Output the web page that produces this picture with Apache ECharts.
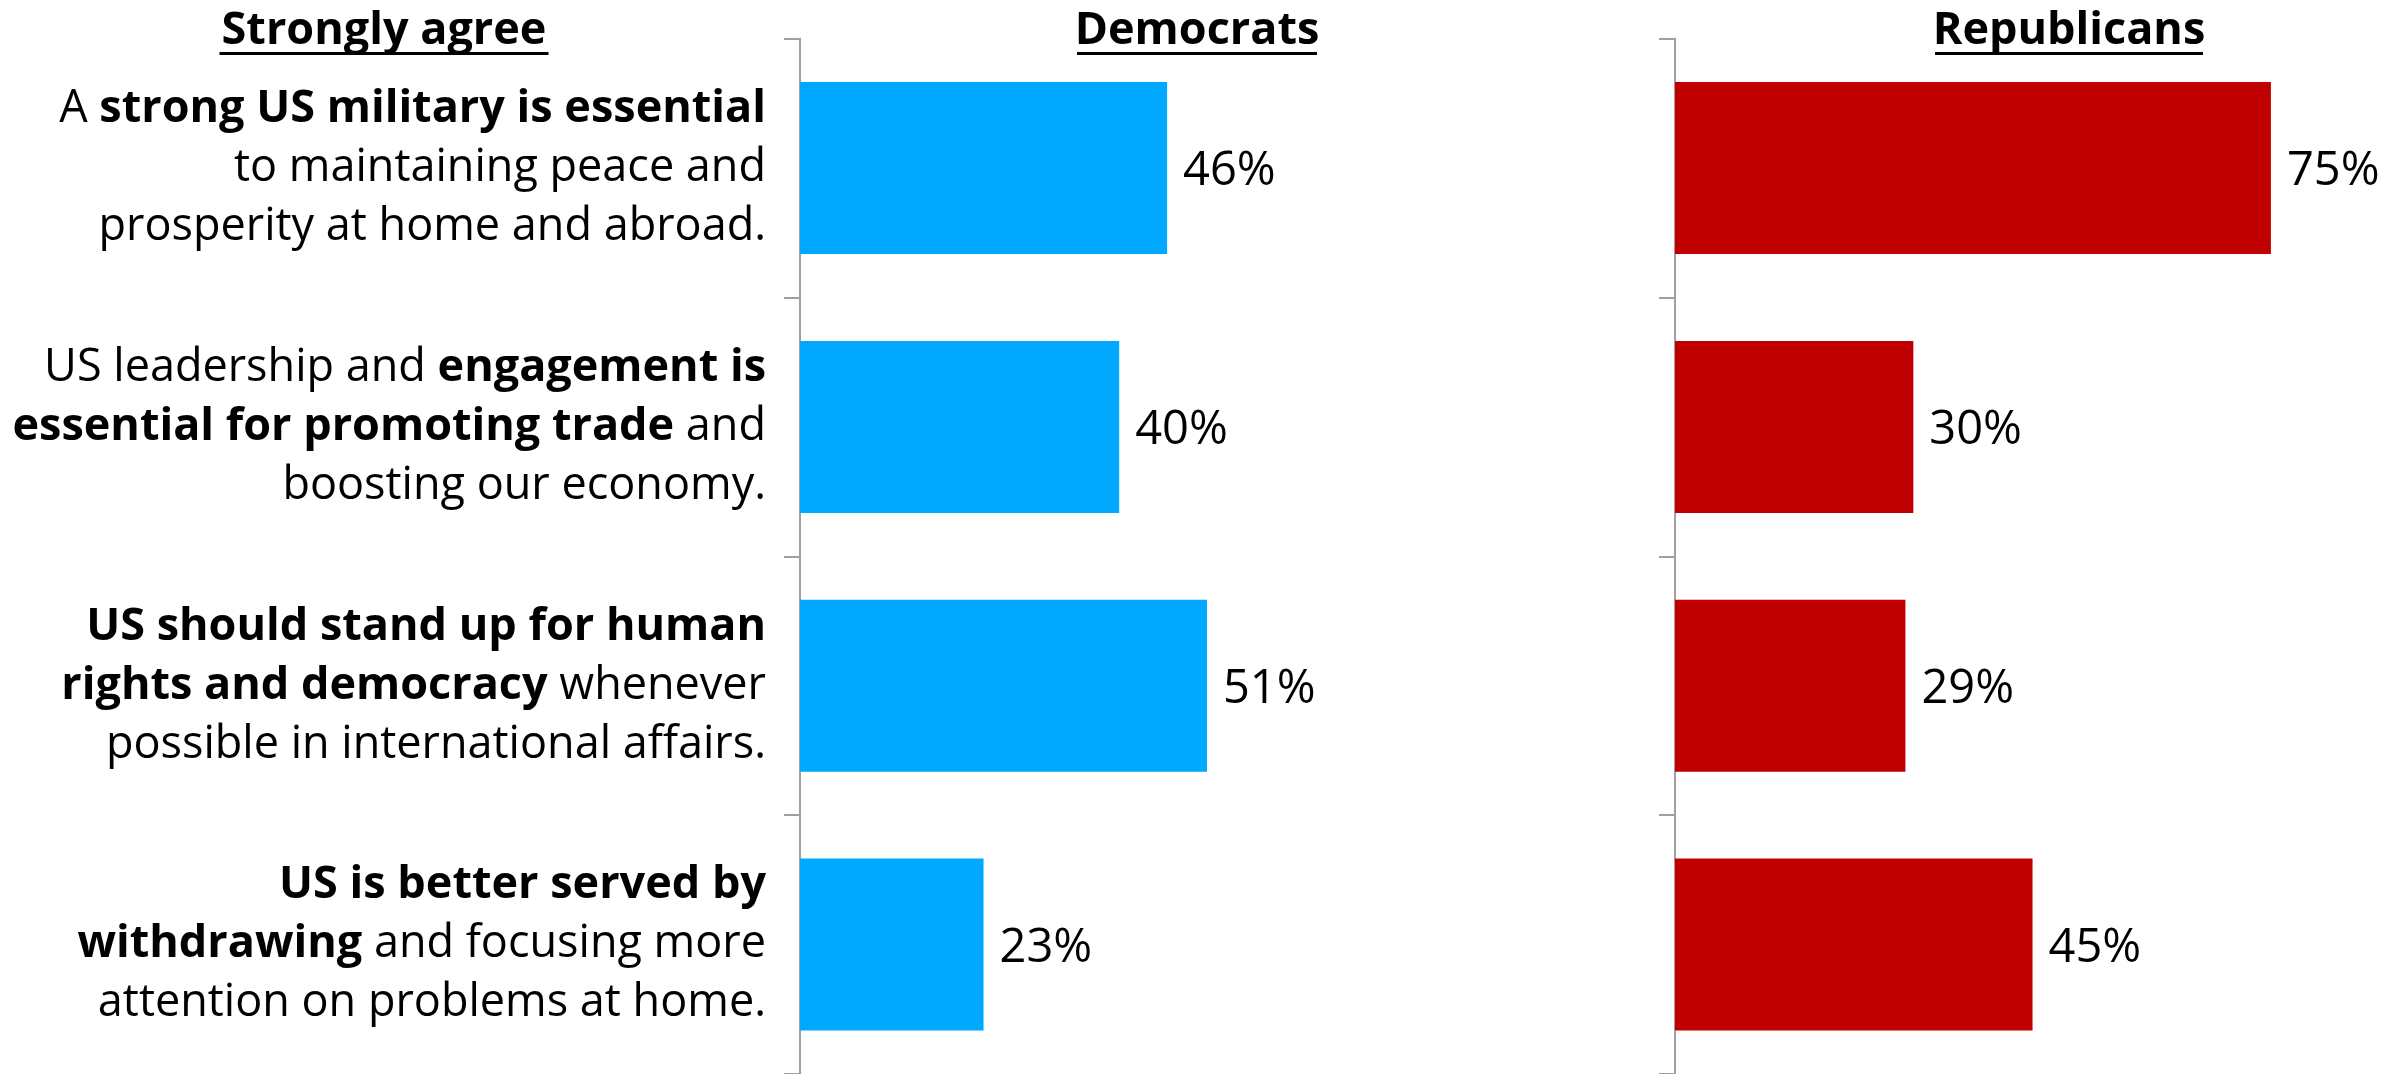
<!DOCTYPE html>
<html>
<head>
<meta charset="utf-8">
<script src="https://cdn.jsdelivr.net/npm/echarts@6/dist/echarts.min.js"></script>
<style>
html,body{margin:0;padding:0;background:#fff;}
#chart{width:2402px;height:1074px;}
</style>
</head>
<body>
<div id="chart"></div>
<script>
// Category labels ({b|...} marks bold parts of each statement)
var categories = [
  'A {b|strong US military is essential}\nto maintaining peace and\nprosperity at home and abroad.',
  'US leadership and {b|engagement is}\n{b|essential for promoting trade} and\nboosting our economy.',
  '{b|US should stand up for human}\n{b|rights and democracy} whenever\npossible in international affairs.',
  '{b|US is better served by}\n{b|withdrawing} and focusing more\nattention on problems at home.'
];
var democrats = [46, 40, 51, 23];
var republicans = [75, 30, 29, 45];
var headerLeft = 'Strongly agree';
var headerDem = 'Democrats';
var headerRep = 'Republicans';

var FONT = '"Open Sans", "Noto Sans", sans-serif';
var chart = echarts.init(document.getElementById('chart'), null, {renderer: 'canvas'});

var axisLineColor = '#a0a0a0';
function yAxisCfg(gridIndex, showLabels) {
  return {
    type: 'category', gridIndex: gridIndex, data: categories, inverse: true,
    axisLine: {show: true, lineStyle: {color: axisLineColor, width: 2}},
    axisTick: {show: true, length: 16, lineStyle: {color: axisLineColor, width: 2}},
    axisLabel: {
      show: showLabels, margin: 34, color: '#000', fontFamily: FONT, fontSize: 45,
      lineHeight: 59, align: 'right',
      rich: {b: {fontWeight: 'bold', fontFamily: FONT, fontSize: 45, lineHeight: 59, color: '#000'}}
    }
  };
}
function xAxisCfg(gridIndex, max) {
  return {type: 'value', gridIndex: gridIndex, min: 0, max: max, show: false, splitLine: {show: false}};
}
function barSeries(idx, data, color) {
  return {
    type: 'bar', xAxisIndex: idx, yAxisIndex: idx, data: data, barWidth: 172,
    itemStyle: {color: color},
    label: {show: true, position: 'right', distance: 16, offset: [0, 4], color: '#000', fontFamily: FONT, fontSize: 47,
      formatter: function (p) { return p.value + '%'; }},
    silent: true, animation: false
  };
}
function header(text, cx, w) {
  return [
    {type: 'text', x: cx, y: 31, style: {text: text, fill: '#000', font: 'bold 45px ' + FONT, align: 'center', verticalAlign: 'middle'}},
    {type: 'rect', shape: {x: cx - w / 2, y: 52, width: w, height: 3}, style: {fill: '#000'}}
  ];
}
var option = {
  backgroundColor: '#fff',
  animation: false,
  grid: [
    {left: 800, top: 38.6, width: 798, bottom: 0, containLabel: false},
    {left: 1675, top: 38.6, right: 0, bottom: 0, containLabel: false}
  ],
  // right grid is cut by the canvas edge: 727 px wide at the same ~7.95 px per point
  xAxis: [xAxisCfg(0, 100), xAxisCfg(1, 91.5)],
  yAxis: [yAxisCfg(0, true), yAxisCfg(1, false)],
  series: [barSeries(0, democrats, '#00A8FF'), barSeries(1, republicans, '#C00000')],
  graphic: [].concat(header(headerLeft, 384, 329), header(headerDem, 1197, 240), header(headerRep, 2069, 268))
};
chart.setOption(option);
</script>
</body>
</html>
